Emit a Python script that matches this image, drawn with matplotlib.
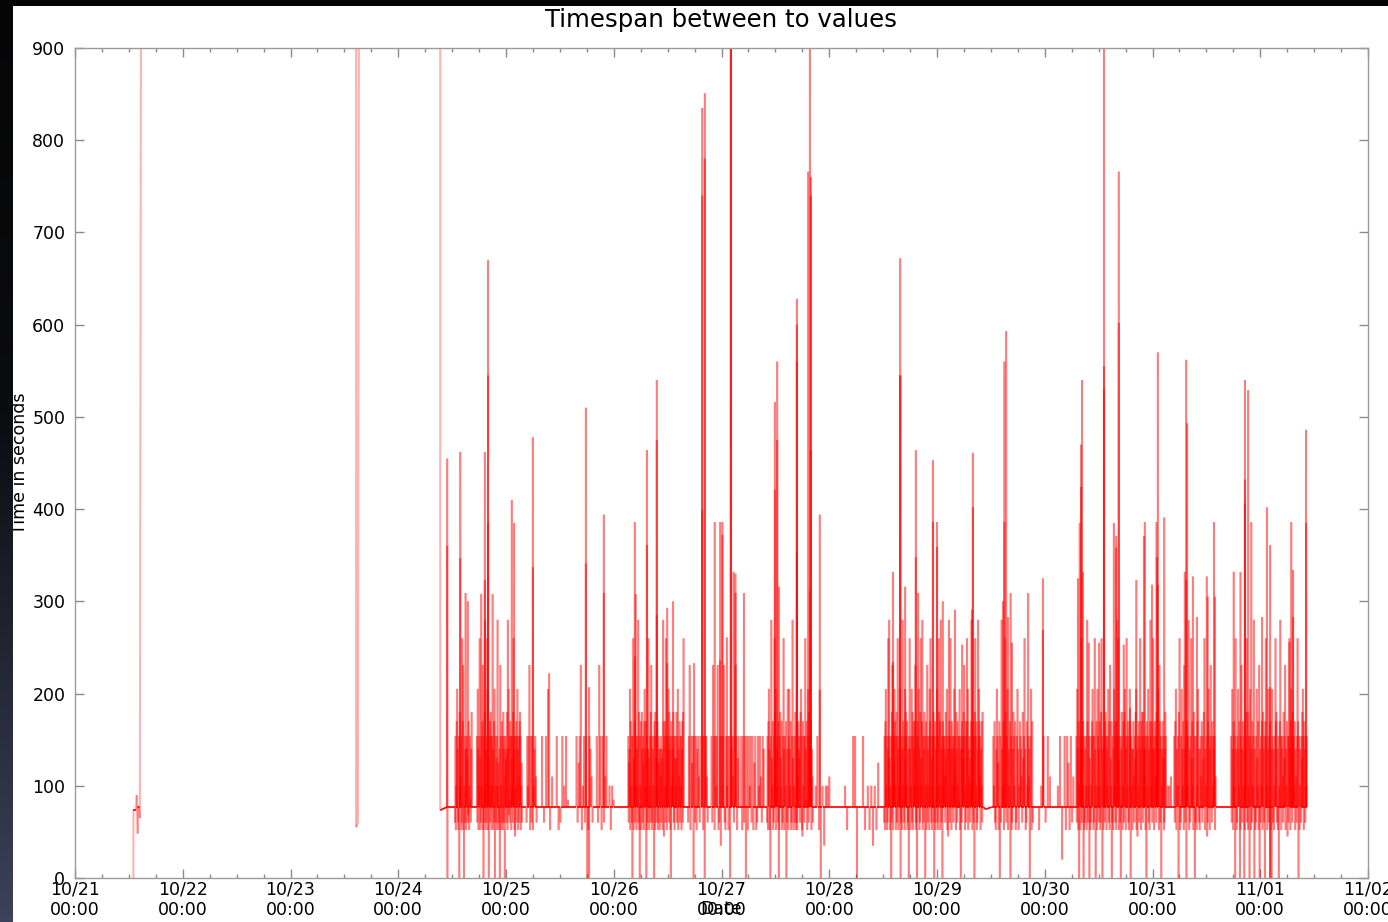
import numpy as np
import matplotlib
matplotlib.use('Agg')
import matplotlib.pyplot as plt
import matplotlib.dates as mdates
from matplotlib.collections import LineCollection
from matplotlib.colors import LinearSegmentedColormap

# ---------------- data ----------------
START = np.datetime64('2013-10-21T00:00')
X_RANGE = ('2013-10-21T00:00', '2013-11-02T00:00')
TITLE = 'Timespan between to values'
XLABEL = 'Date'
YLABEL = 'Time in seconds'
Y_TICKS = [0, 100, 200, 300, 400, 500, 600, 700, 800, 900]
BASELINE = 77  # seconds, regular sampling interval

# level codes used in the burst strings (seconds)
LEVELS = {'z': 0, 'a': 20, 'b': 35, 'u': 45, 'c': 52, 'd': 60, 'v': 68,
          'p': 85, 'e': 100, 'q': 110, 'f': 125, 'r': 130, 's': 140,
          'g': 154, 'y': 170, 'h': 180, 'i': 205, 'j': 231, 'k': 260,
          'x': 280, 'l': 308}

# explicit early points (hours since 10/21 00:00, seconds), incl. gap values
early_h = [13.0, 13.02, 13.6, 13.75, 13.8, 13.97, 14.05, 14.3, 14.45,
           62.6, 62.62, 63.0, 81.3]
early_v = [0, 74, 74, 90, 76, 48, 78, 76, 65,
           173340, 55, 60, 65880]

# baseline anchor points
base_h = [81.35, 84.0, 202.3, 202.8, 204.2, 274.4]
base_v = [73.5, 77, 77, 74.5, 77, 77]

# bursts of activity: start hour, end hour, sequence of level codes
burst_start = [84.6, 89.5, 100.5, 103.8, 107.1, 111.6, 116.1, 118.9, 123.2,
               136.5, 139.7, 141.7, 148.3, 154.1, 164.8, 171.3, 173.1, 175.3,
               176.4, 180.2, 204.5, 214.5, 218.7, 220.3, 223.0, 243.2, 244.8,
               257.5]
burst_end = [88.4, 99.6, 102.9, 106.5, 110.0, 115.4, 118.5, 120.1, 135.6,
             139.4, 141.0, 147.9, 153.5, 164.4, 168.2, 172.2, 174.4, 176.2,
             179.1, 202.2, 213.4, 217.4, 220.1, 222.5, 243.0, 244.3, 254.1,
             274.4]
burst_codes = [
    "dgceyisdcgzheqgcdkyjczegdscsgrdvycegpdsh",
    "gdiscegkrcdlgeyjczgdhxecsdgkicrzgeydhgce"
    "glscdyizgedrcgxefcdszjgceydgchsdgzqgrsdh"
    "cxsivgdypgcegrdhkgscugeydgiscqgdyhgcefd",
    "dgegjcgdgcesgqd",
    "gdgicq",
    "gcdgegp",
    "gdfgjcegdgzcgsqd",
    "gdjgcgdqg",
    "ecep",
    "gdfsicyegdzgkcreydlgcsegxdhczgeychsdgfcy"
    "iseyzcgdskrcegdhjgcdsegzychgdreycdgfscsq"
    "gdrscxyugeydkgcspgidhsgczyegqshdgcrgerhd"
    "gicsqydgegcsydhk",
    "dgjcgfgzgdgcsgqdg",
    "gcgzggqd",
    "gdjgcgegjcdgbgegjdcgegcgzgsgqdgjgcrg",
    "gcgdgzgcgegdgcfgcdgegqdgs",
    "dgcyisczgxreycdgkhicsegdyzcghreycdgkscge"
    "yzdsicgiseycdgxrcegdhcgdcqysgrdhigcuyegd"
    "gkspycgidhsgeycsqd",
    "egczebeeq",
    "ec",
    "ggz",
    "gc",
    "ecebecf",
    "dgcyiegcdskgxrcegzdhjgcfgiyegchdgkscegirz"
    "dgcsxeydgcirhgeycdszgkscegidhcgyseyjcdgz"
    "yegiscdhkreyxcgdshgzeycgjdsegciykgdrcegh"
    "gzdycsegidcgkheycxsdgzyegsgqdhrgicsugxyd"
    "gkscyegsdgirqgchsdyegpgicszgdysgrhjgceyd"
    "gkyicsqgdreyxgcsydgzhkgeycdsxgiyqgcseydh",
    "geydcsigfcyzgdxseycgkhdgicseyzgcdshgeycd"
    "gisceygsqdhrgkscdyegqszgicyd",
    "cegdgq",
    "ega",
    "gcgfcgdq",
    "gdiscyzegcskdgeyzcgdsegcxydegzrcdgeyigcd"
    "gkszeycigdseycdhkgzscegdyhgcsegidycjreyz"
    "dgcsieydgcyxgkrcegdzshgceydhigcskgeydcgi"
    "yzgescsyqdgrhicsugeydgkscyhgdhsgqscgzyeg"
    "idscyxgeydskgcsyqgdhegiscjydgzseyrgcdshg",
    "eeq",
    "gdyicsegzhkcdgiseycjsdgzyegxcsdgkryechgz"
    "dgceyisdcsgqydgrhkcsegudyigcsjgdyegsgcq",
    "gdiscyegzkscdgiseyzcgjsdyegzcshgkdhcegzi"
    "gcsdyegxzscdgireycjzsdgeychsdgzykgecsidg"
    "eycszigdscegkyhdscgzeyxgcsgqdhrgjcseyugd"
    "gkscyigdhsgeycsqdgkyzgcesdgrhigcysdgeg",
]

# individual tall spikes / deep dips (hour, seconds)
peak_h = [82.9, 82.9, 82.95, 85.8, 85.8, 87.0, 87.5, 91.3, 91.3, 92.0, 92.0, 92.0,
          97.3, 97.8, 102.0, 102.0, 105.6, 113.8, 113.8, 114.5, 114.5, 117.8, 117.8,
          124.7, 124.7, 127.4, 127.4, 129.6, 129.6, 129.6, 131.9, 131.9, 133.2,
          137.9, 139.7, 139.7, 139.7, 140.3, 140.3, 142.5, 143.7, 143.7, 144.2,
          144.2, 145.2, 146.1, 146.1, 146.1, 146.7, 147.1, 147.1, 149.0,
          155.9, 155.9, 156.4, 156.4, 156.8, 160.8, 160.8, 160.8, 160.8,
          163.3, 163.7, 163.7, 163.9, 163.9, 163.9, 165.9, 165.9,
          182.2, 182.2, 183.8, 183.8, 183.8, 184.9, 187.3, 187.3, 187.8,
          191.1, 191.1, 192.0, 192.0, 193.3, 196.0, 197.6, 199.8, 200.0, 200.0,
          206.7, 207.0, 207.0, 207.4, 207.8, 208.4, 208.7, 212.3,
          215.6, 215.6, 223.4, 223.8, 224.1, 224.1, 224.3, 224.5,
          225.8, 228.1, 229.2, 229.2, 229.2, 231.4, 231.9, 231.9, 232.5, 232.5,
          233.6, 235.0, 236.4, 238.1, 238.3, 239.9, 240.9, 241.0, 241.2, 241.2,
          242.6, 247.2, 247.5, 247.5, 247.7, 249.0, 249.9, 252.1, 252.3, 253.7,
          253.9, 258.1, 259.6, 260.6, 260.6, 260.6, 261.3, 262.0, 264.4, 265.5,
          266.2, 266.2, 266.2, 266.2, 270.5, 270.9, 271.3, 271.3, 274.2, 274.2]
peak_v = [455, 360, 0, 462, 347, 309, 300, 462, 323, 670, 545, 385,
          410, 385, 478, 337, 222, 510, 341, 207, 0, 394, 309,
          386, 240, 464, 361, 540, 475, 285, 293, 233, 300,
          233, 835, 740, 399, 851, 780, 386, 386, 236, 386,
          372, 261, 1200, 1100, 1000, 332, 330, 309, 309,
          516, 421, 560, 475, 316, 628, 600, 560, 352,
          766, 1200, 311, 760, 740, 464, 394, 204,
          332, 234, 672, 545, 545, 316, 464, 348, 309,
          453, 386, 386, 359, 300, 291, 253, 291, 461, 402,
          300, 386, 560, 593, 283, 309, 255, 309,
          325, 269, 325, 385, 470, 424, 540, 332,
          255, 255, 1200, 555, 530, 385, 371, 358, 766, 602,
          253, 184, 323, 371, 386, 318, 386, 348, 570, 318,
          391, 332, 562, 323, 493, 327, 283, 327, 305, 386,
          305, 332, 332, 540, 432, 406, 529, 386, 283, 402,
          361, 207, 0, 0, 256, 386, 334, 283, 486, 385]

# ---------------- build the sequence ----------------
items = []
for s, e, codes in zip(burst_start, burst_end, burst_codes):
    n = len(codes)
    step = (e - s) / n
    for k, ch in enumerate(codes):
        items.append((s + (k + 0.5) * step, 'ev', LEVELS[ch]))
for h, v in zip(peak_h, peak_v):
    items.append((h, 'ev', v))
for h, v in zip(base_h, base_v):
    items.append((h, 'pt', v))
items.sort(key=lambda t: t[0])

delta = 1.0 / 60.0  # one minute, hours
hs = list(early_h)
vs = list(early_v)
for h, kind, v in items:
    if kind == 'pt':
        hs.append(h); vs.append(v)
    else:
        hs += [h - delta, h, h + delta]
        vs += [BASELINE, v, BASELINE]

hs = np.array(hs)
vs = np.array(vs, dtype=float)
times = START + (hs * 3600).astype('timedelta64[s]')
xnum = mdates.date2num(times.astype('datetime64[s]').astype(object))

pts = np.column_stack([xnum, vs])
segs = np.stack([pts[:-1], pts[1:]], axis=1)
flat = (np.abs(segs[:, 0, 1] - 75) < 4.5) & (np.abs(segs[:, 1, 1] - 75) < 4.5)
colors = np.where(flat[:, None], np.array([[1, 0, 0, 0.95]]), np.array([[1, 0, 0, 0.3]]))
widths = np.where(flat, 1.3, 1.5)

# ---------------- draw ----------------
fig = plt.figure(figsize=(13.88, 9.22), dpi=100)
fig.patch.set_facecolor('white')

ax = fig.add_axes([75 / 1388, 1 - 878 / 922, 1293 / 1388, 830 / 922])
lc = LineCollection(segs, colors=colors, linewidths=widths, antialiased=True)
ax.add_collection(lc)

ax.set_xlim(mdates.date2num(np.datetime64(X_RANGE[0]).astype(object)),
            mdates.date2num(np.datetime64(X_RANGE[1]).astype(object)))
ax.set_ylim(0, 900)
ax.set_yticks(Y_TICKS)
ax.xaxis.set_major_locator(mdates.DayLocator())
ax.xaxis.set_minor_locator(mdates.HourLocator(byhour=[6, 12, 18]))
ax.xaxis.set_major_formatter(mdates.DateFormatter('%m/%d\n%H:%M'))

spine_c = '#9a9a9a'
for sp in ax.spines.values():
    sp.set_color(spine_c)
    sp.set_linewidth(1.0)
ax.tick_params(which='both', direction='in', top=True, right=True,
               color='#8a8a8a', labelcolor='black', labelsize=12.5)
ax.tick_params(which='major', length=6.5, width=1.0)
ax.tick_params(which='minor', length=3.2, width=1.0)
ax.tick_params(axis='x', which='major', pad=1.5)
ax.tick_params(axis='y', which='major', pad=7)

ax.set_xlabel(XLABEL, fontsize=12.5, va='center')
ax.xaxis.set_label_coords(0.5, (878 - 909) / 830)
ax.set_ylabel(YLABEL, fontsize=12.5, va='center')
ax.yaxis.set_label_coords((20 - 75) / 1293, 0.5)

fig.text(721 / 1388, 1 - 20 / 922, TITLE, ha='center', va='center', fontsize=17.6)

# dark screenshot frame (left and top edges)
band = fig.add_axes([0, 0, 13 / 1388, 1])
cmap = LinearSegmentedColormap.from_list(
    'frame', [(0.0, '#050506'), (0.45, '#0b0c10'), (1.0, '#3d4159')])
band.imshow(np.linspace(0, 1, 256).reshape(-1, 1), aspect='auto', cmap=cmap,
            extent=[0, 1, 0, 1], origin='upper')
band.set_axis_off()
topband = fig.add_axes([0, 1 - 6 / 922, 1, 6 / 922])
topband.set_facecolor('#050506')
topband.set_xticks([]); topband.set_yticks([])
for sp in topband.spines.values():
    sp.set_visible(False)

fig.savefig('out.png', dpi=100)
